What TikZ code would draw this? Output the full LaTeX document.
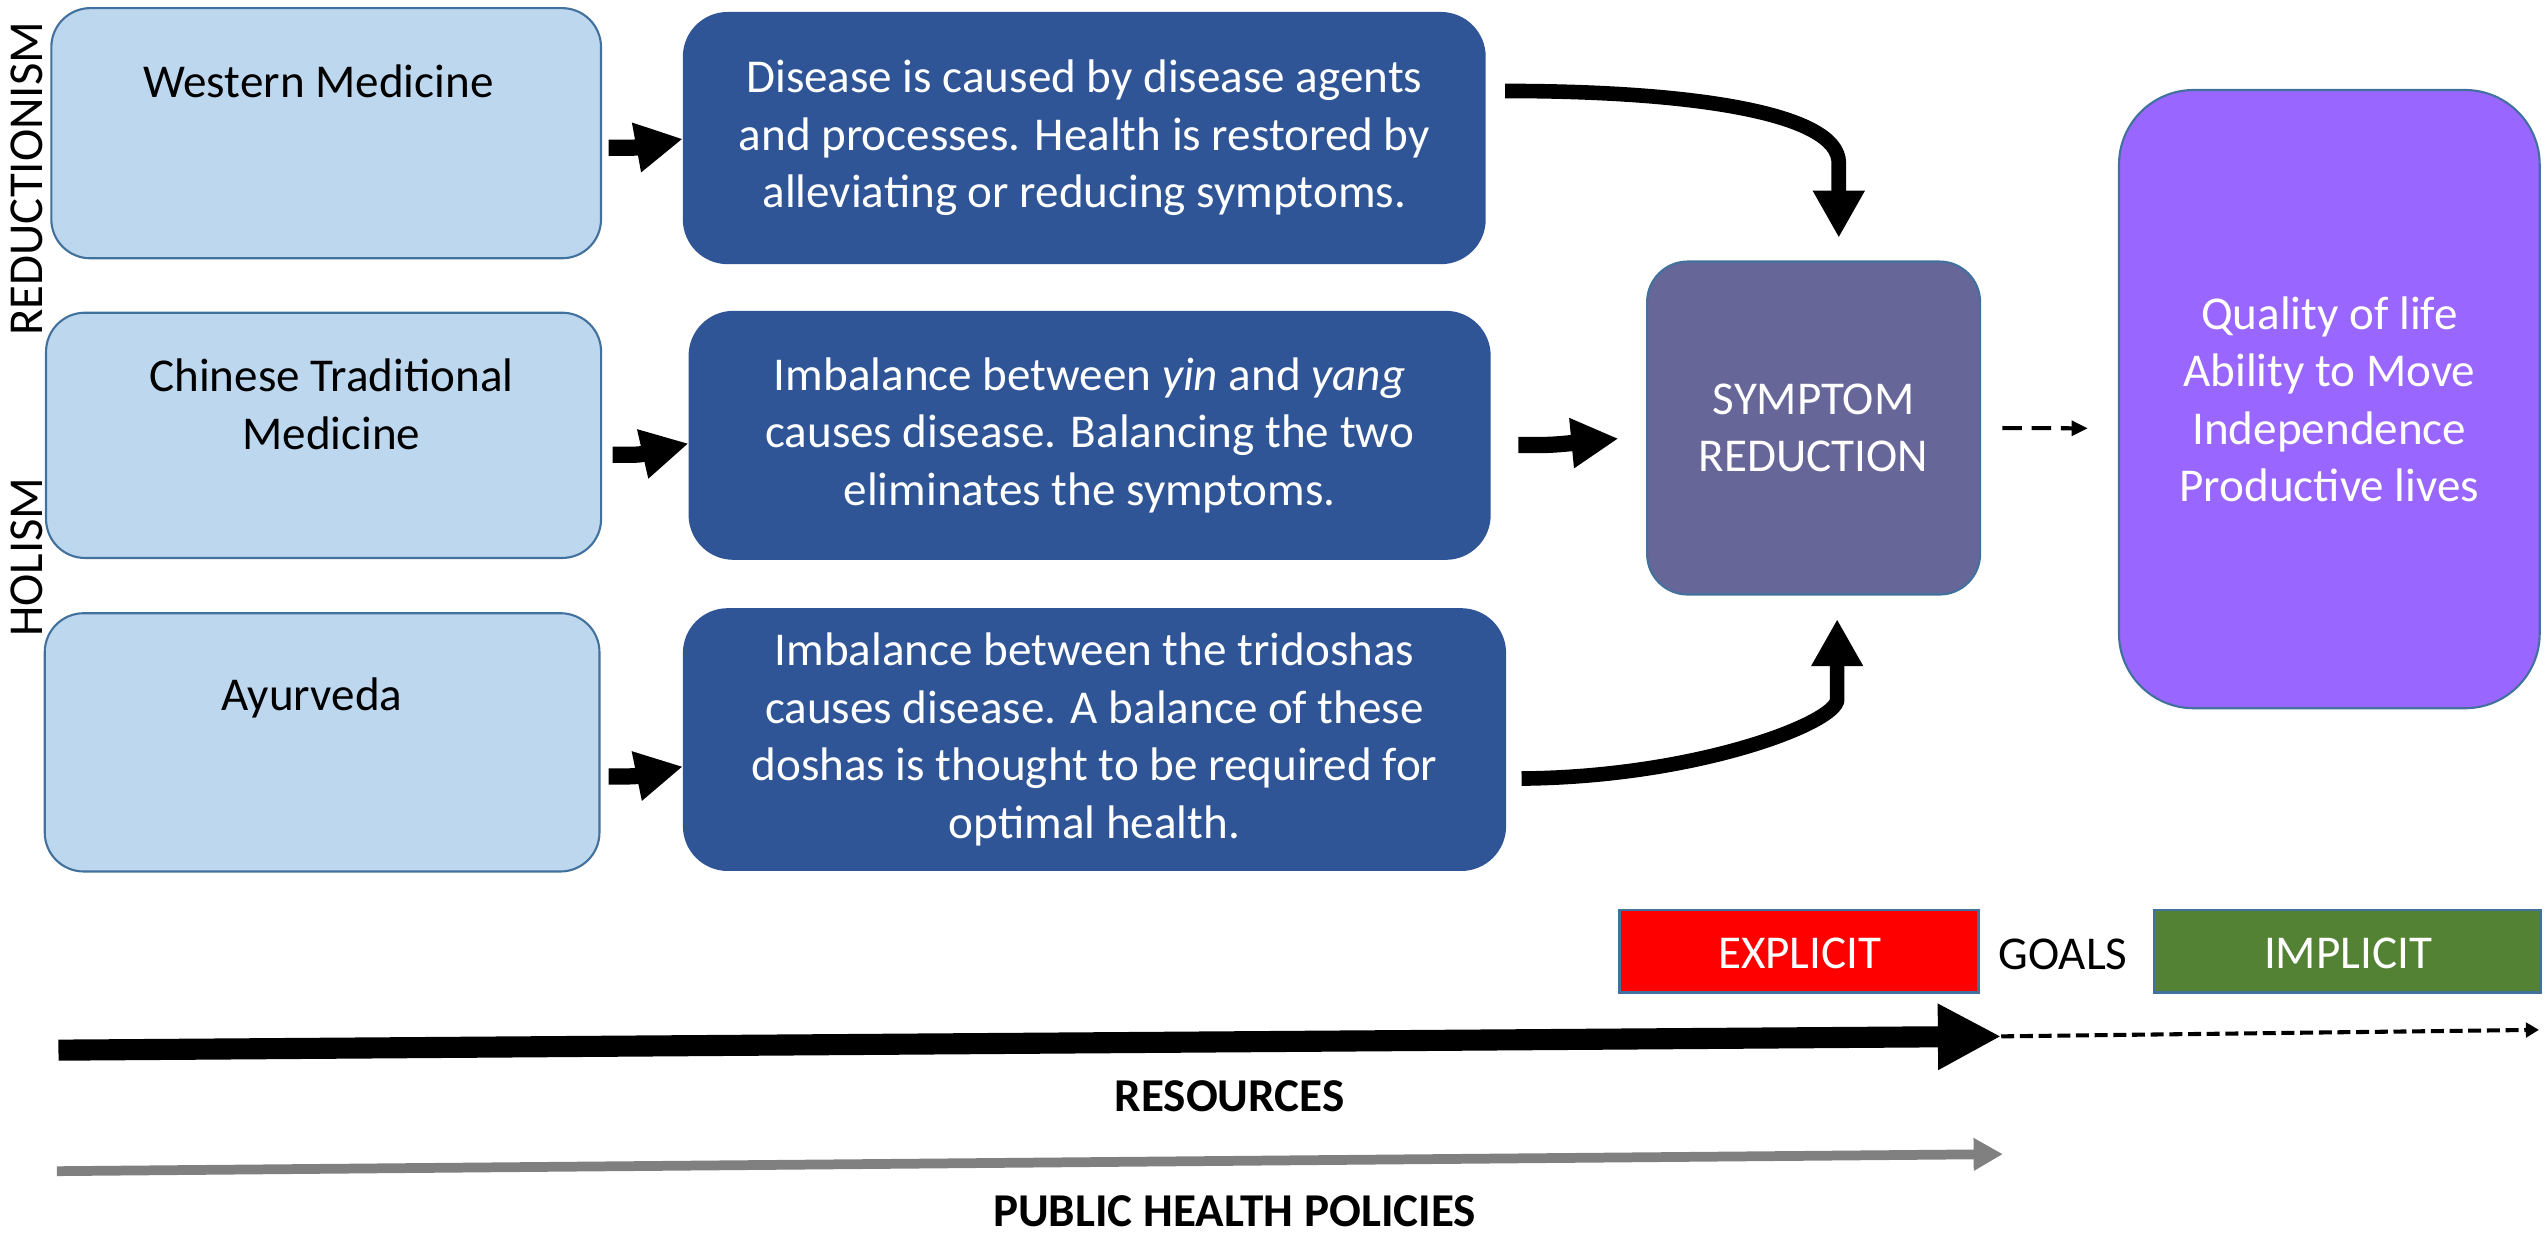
\documentclass[tikz,border=0pt]{standalone}
\usepackage{fontspec}
\setmainfont{Carlito}
\usetikzlibrary{arrows.meta}

\definecolor{lightfill}{HTML}{BDD7EE}
\definecolor{edgeblue}{HTML}{41719C}
\definecolor{darkfill}{HTML}{2F5597}
\definecolor{symfill}{HTML}{666699}
\definecolor{goalfill}{HTML}{9966FF}
\definecolor{explicitred}{HTML}{FF0000}
\definecolor{implicitgreen}{HTML}{548235}
\definecolor{policygray}{HTML}{808080}

\newcommand\boxfont{\fontsize{29}{35.4}\selectfont}

\tikzset{
  lightbox/.style={draw=edgeblue, line width=1.3pt, fill=lightfill, rounded corners=24pt, inner sep=0pt},
  darkbox/.style={draw=darkfill, line width=1.3pt, fill=darkfill, rounded corners=27pt, inner sep=0pt,
    text=white, align=center, font=\boxfont},
  symbox/.style={draw=edgeblue, line width=1.3pt, fill=symfill, rounded corners=25pt, inner sep=0pt,
    text=white, align=center, font=\boxfont},
  goalbox/.style={draw=edgeblue, line width=1.3pt, fill=goalfill, rounded corners=46pt, inner sep=0pt,
    text=white, align=center, font=\boxfont},
  tagbox/.style={draw=edgeblue, line width=1.3pt, inner sep=0pt, minimum width=#1, minimum height=51pt},
  lbl/.style={inner sep=0pt, font=\boxfont, align=center},
  sidelbl/.style={inner sep=0pt, font=\fontsize{30}{36}\selectfont, rotate=90, anchor=base},
  fat/.style={line width=10pt, -{Triangle[length=29pt,width=29pt]}},
  curved/.style={line width=9pt, -{Triangle[length=29pt,width=30pt]}},
  thindash/.style={line width=2.5pt, dash pattern=on 12pt off 6pt, -{Triangle[length=10pt,width=9pt]}},
}

\begin{document}
\begin{tikzpicture}[x=1pt,y=-1pt]
\useasboundingbox (0,0) rectangle (1568,763);

% side labels
\node[sidelbl] (red) at (26,110) {REDUCTIONISM};
\node[sidelbl] (hol) at (26,343) {HOLISM};

% medical systems
\node[lightbox, minimum width=338.4pt, minimum height=154pt] (wm) at (200.8,82) {};
\node[lightbox, minimum width=341.7pt, minimum height=151pt] (ctm) at (199.2,268) {};
\node[lightbox, minimum width=341.5pt, minimum height=159pt] (ayu) at (198.3,457) {};
\node[lbl, anchor=base] (wm-t) at (196,60.3) {Western Medicine};
\node[lbl] (ctm-t) at (204,249) {Chinese Traditional\\Medicine};
\node[lbl, anchor=base] (ayu-t) at (192,437.3) {Ayurveda};

% explanations
\node[darkbox, minimum width=493pt, minimum height=154pt] (d1) at (667.5,85)
  {Disease is caused by disease agents\\and processes. Health is restored by\\alleviating or reducing symptoms.};
\node[darkbox, minimum width=492.5pt, minimum height=152pt] (d2) at (670.8,268)
  {Imbalance between \textit{yin} and \textit{yang}\\causes disease. Balancing the two\\eliminates the symptoms.};
\node[darkbox, minimum width=505.5pt, minimum height=160.5pt] (d3) at (673.8,455.3)
  {Imbalance between the tridoshas\\causes disease. A balance of these\\doshas is thought to be required for\\optimal health.};

% outcome boxes
\node[symbox, minimum width=205pt, minimum height=205pt] (sym) at (1116.5,263.5) {SYMPTOM\\REDUCTION};
\node[goalbox, minimum width=259pt, minimum height=380.6pt] (qol) at (1434,245.7)
  {Quality of life\\Ability to Move\\Independence\\Productive lives};

% arrows into the explanations
\draw[fat] ([shift={(4,9)}]wm.east) .. controls +(16,0) .. ([shift={(0,0.5)}]d1.west);
\draw[fat] ([shift={(6.5,12)}]ctm.east) .. controls +(16,0) .. ([shift={(0,5)}]d2.west);
\draw[fat] ([shift={(5,21)}]ayu.east) .. controls +(16,0) .. ([shift={(0,16.6)}]d3.west);

% arrows into symptom reduction
\draw[curved] ([shift={(12,-29)}]d1.east) .. controls +(114,0) and +(0,-31) .. ([shift={(15.5,-60)}]sym.north)
  -- ([shift={(15.5,-14)}]sym.north);
\draw[fat] ([shift={(17,6)}]d2.east) .. controls +(20,0) .. ([shift={(-17,6.5)}]sym.west);
\draw[curved] ([shift={(9.5,24)}]d3.east) .. controls +(109,-1) and +(0,14) .. ([shift={(14.5,64)}]sym.south)
  -- ([shift={(14.5,14.5)}]sym.south);

% symptom reduction to wider goals
\draw[thindash] ([shift={(13,0)}]sym.east) -- ([shift={(-18.5,18)}]qol.west);

% goal tags
\node[tagbox=221pt, fill=explicitred] (expl) at (1107.5,585.5) {};
\node[tagbox=238pt, fill=implicitgreen] (impl) at (1445,585.5) {};
\node[lbl, text=white, anchor=base] (expl-t) at (1108,596) {EXPLICIT};
\node[lbl, text=white, anchor=base] (impl-t) at (1445.5,596) {IMPLICIT};
\node[lbl, anchor=base] (goals) at (1270,597) {GOALS};

% resources and policies
\coordinate (res-a) at (36,646.5);
\coordinate (res-b) at (1232,638);
\coordinate (res-c) at (1563,634);
\coordinate (pol-a) at (35,721);
\coordinate (pol-b) at (1233,710.5);
\draw[line width=13pt, -{Triangle[length=39pt,width=38pt]}] (res-a) -- (res-b);
\draw[line width=2.5pt, dash pattern=on 8pt off 3.5pt, -{Triangle[length=8pt,width=9pt]}] (res-b) -- (res-c);
\draw[policygray, line width=6pt, -{Triangle[length=18pt,width=19pt]}] (pol-a) -- (pol-b);
\node[lbl, font=\boxfont\bfseries, anchor=base] (res-t) at (757,684) {RESOURCES};
\node[lbl, font=\boxfont\bfseries, anchor=base] (pol-t) at (760,755) {PUBLIC HEALTH POLICIES};
\end{tikzpicture}
\end{document}
